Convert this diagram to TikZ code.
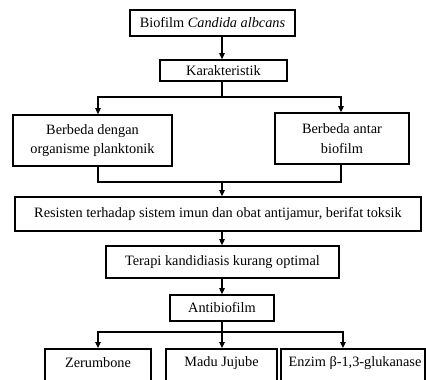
\documentclass[tikz,border=0pt]{standalone}
\usepackage{fontspec}
\setmainfont{Liberation Serif}
\usetikzlibrary{arrows.meta}
\begin{document}
\begin{tikzpicture}[x=1pt,y=-1pt,
  box/.style={draw, line width=1.7pt, inner sep=0pt, align=center, font=\fontsize{14.3}{19.5}\selectfont},
  lbl/.style={inner sep=0pt, font=\fontsize{14.3}{19.5}\selectfont},
  conn/.style={line width=1.1pt},
  arr/.style={line width=1.1pt, -{Triangle[length=6pt,width=5.5pt]}}]
\useasboundingbox (0,0) rectangle (426,380);
\clip (0,0) rectangle (426,380);
\node[box, minimum width=165pt, minimum height=26pt] (top) at (212.5,23) {Biofilm \textit{Candida albcans}};
\node[box, minimum width=127pt, minimum height=21pt] (kar) at (223.5,70.5) {Karakteristik};
\node[box, minimum width=159pt, minimum height=51pt] (left) at (92.5,140.5) {Berbeda dengan\\organisme planktonik};
\node[box, minimum width=134pt, minimum height=51pt] (right) at (342,138.5) {Berbeda antar\\biofilm};
\node[box, minimum width=406pt, minimum height=34pt] (res) at (218,214) {Resisten terhadap sistem imun dan obat antijamur, berifat toksik};
\node[box, minimum width=233pt, minimum height=32pt] (ter) at (222.5,262) {Terapi kandidiasis kurang optimal};
\node[box, minimum width=104pt, minimum height=26pt] (anti) at (222,308) {Antibiofilm};
\node[box, minimum width=106pt, minimum height=60pt, anchor=north] (zer) at (98,348) {};
\node[box, minimum width=111pt, minimum height=60pt, anchor=north] (madu) at (221.5,348) {};
\node[box, minimum width=144pt, minimum height=60pt, anchor=north] (enz) at (353,348) {};
\node[lbl] (zert) at (98,363) {Zerumbone};
\node[lbl] (madut) at (221.5,363) {Madu Jujube};
\node[lbl] (enzt) at (355,363) {Enzim β-1,3-glukanase};
% connectors
\draw[arr] (top.south -| 222,0) -- (kar.north -| 222,0);
\coordinate (k1) at (222,97);
\draw[conn] (kar.south -| k1) -- (k1);
\draw[arr] (k1) -| (left.north -| 98,0);
\draw[arr] (k1) -| (right.north -| 341,0);
\coordinate (j1) at (222,182);
\draw[conn] (left.south -| 98,0) |- (j1);
\draw[conn] (right.south -| 341,0) |- (j1);
\draw[arr] (j1) -- (res.north -| j1);
\draw[arr] (res.south -| 222,0) -- (ter.north -| 222,0);
\draw[arr] (ter.south -| 222,0) -- (anti.north -| 222,0);
\coordinate (a1) at (222,332);
\draw[conn] (anti.south -| a1) -- (a1);
\draw[arr] (a1) -| (zer.north -| 98,0);
\draw[arr] (a1) -- (madu.north -| a1);
\draw[arr] (a1) -| (enz.north -| 343,0);
\end{tikzpicture}
\end{document}
